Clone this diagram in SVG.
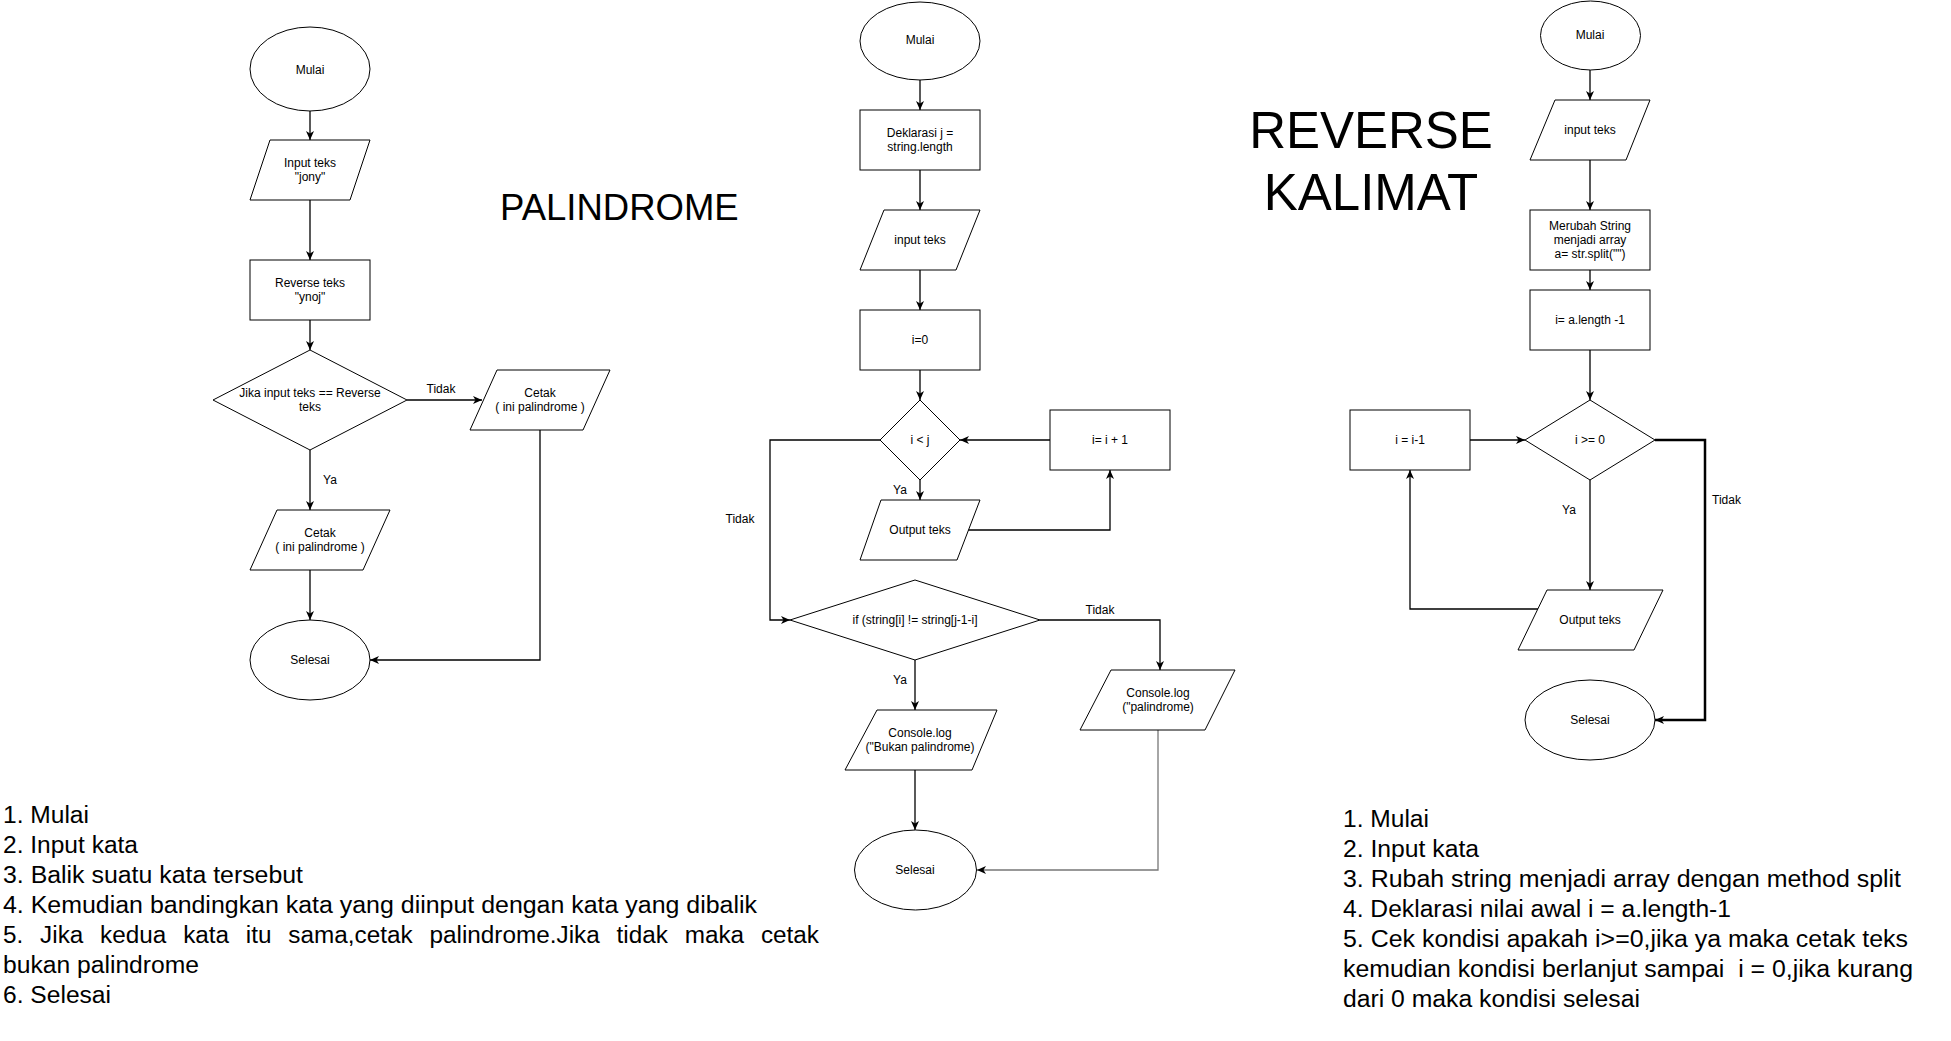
<svg xmlns="http://www.w3.org/2000/svg" width="1951" height="1041" viewBox="0 0 1951 1041">
<style>
.n{fill:#fff;stroke:#000;stroke-width:1}
.t{font-family:"Liberation Sans",Arial,sans-serif;font-size:12px;fill:#000;text-anchor:middle;dominant-baseline:central}
.l{font-family:"Liberation Sans",Arial,sans-serif;font-size:12px;fill:#000;dominant-baseline:central}
.c{fill:none;stroke:#000;stroke-width:1.3}
.title{font-family:"Liberation Sans",Arial,sans-serif;fill:#000}
.list{font-family:"Liberation Sans",Arial,sans-serif;fill:#000}
</style>
<defs>
<marker id="a" markerWidth="10" markerHeight="10" refX="9" refY="4" orient="auto" markerUnits="userSpaceOnUse">
<path d="M0,0 L9,4 L0,8 L2.5,4 Z" fill="#000"/>
</marker>
</defs>
<rect width="1951" height="1041" fill="#fff"/>

<!-- Titles -->
<text class="title" x="500" y="220" font-size="36.5">PALINDROME</text>
<text class="title" x="1371" y="148" font-size="51" text-anchor="middle">REVERSE</text>
<text class="title" x="1371" y="210" font-size="51" text-anchor="middle">KALIMAT</text>

<!-- Connectors -->
<g id="connectors">
<!-- left chart -->
<path class="c" d="M310,111 L310,140" marker-end="url(#a)"/>
<path class="c" d="M310,200 L310,260" marker-end="url(#a)"/>
<path class="c" d="M310,320 L310,350" marker-end="url(#a)"/>
<path class="c" d="M407,400 L482,400" marker-end="url(#a)"/>
<path class="c" d="M310,450 L310,510" marker-end="url(#a)"/>
<path class="c" d="M310,570 L310,620" marker-end="url(#a)"/>
<path class="c" d="M540,430 L540,660 L370,660" marker-end="url(#a)"/>
<text class="t" x="441" y="389">Tidak</text>
<text class="t" x="330" y="480">Ya</text>
<!-- middle chart -->
<path class="c" d="M920,80 L920,110" marker-end="url(#a)"/>
<path class="c" d="M920,170 L920,210" marker-end="url(#a)"/>
<path class="c" d="M920,270 L920,310" marker-end="url(#a)"/>
<path class="c" d="M920,370 L920,400" marker-end="url(#a)"/>
<path class="c" d="M1050,440 L960,440" marker-end="url(#a)"/>
<path class="c" d="M880,440 L770,440 L770,620 L790,620" marker-end="url(#a)"/>
<path class="c" d="M920,480 L920,500" marker-end="url(#a)"/>
<path class="c" d="M968,530 L1110,530 L1110,470" marker-end="url(#a)"/>
<path class="c" d="M1040,620 L1160,620 L1160,670" marker-end="url(#a)"/>
<path class="c" d="M915,660 L915,710" marker-end="url(#a)"/>
<path class="c" d="M915,770 L915,830" marker-end="url(#a)"/>
<path class="c" d="M1158,730 L1158,870 L977,870" style="stroke:#777" marker-end="url(#a)"/>
<text class="t" x="740" y="519">Tidak</text>
<text class="t" x="900" y="490">Ya</text>
<text class="t" x="1100" y="610">Tidak</text>
<text class="t" x="900" y="680">Ya</text>
<!-- right chart -->
<path class="c" d="M1590,70 L1590,100" marker-end="url(#a)"/>
<path class="c" d="M1590,160 L1590,210" marker-end="url(#a)"/>
<path class="c" d="M1590,270 L1590,290" marker-end="url(#a)"/>
<path class="c" d="M1590,350 L1590,400" marker-end="url(#a)"/>
<path class="c" d="M1470,440 L1525,440" marker-end="url(#a)"/>
<path class="c" d="M1590,480 L1590,590" marker-end="url(#a)"/>
<path class="c" d="M1538,609 L1410,609 L1410,470" marker-end="url(#a)"/>
<path class="c" d="M1655,440 L1705,440 L1705,720 L1655,720" style="stroke-width:2.5" marker-end="url(#a)"/>
<text class="t" x="1569" y="510">Ya</text>
<text class="l" x="1712" y="500">Tidak</text>
</g>

<!-- Left chart nodes -->
<g id="p-mulai"><ellipse class="n" cx="310" cy="69" rx="60" ry="42"/><text class="t" x="310" y="70">Mulai</text></g>
<g id="p-input"><polygon class="n" points="270,140 370,140 350,200 250,200"/><text class="t" x="310" y="163">Input teks</text><text class="t" x="310" y="177">"jony"</text></g>
<g id="p-reverse"><rect class="n" x="250" y="260" width="120" height="60"/><text class="t" x="310" y="283">Reverse teks</text><text class="t" x="310" y="297">"ynoj"</text></g>
<g id="p-cond"><polygon class="n" points="310,350 407,400 310,450 213,400"/><text class="t" x="310" y="393">Jika input teks == Reverse</text><text class="t" x="310" y="407">teks</text></g>
<g id="p-cetak-tidak"><polygon class="n" points="497,370 610,370 583,430 470,430"/><text class="t" x="540" y="393">Cetak</text><text class="t" x="540" y="407">( ini palindrome )</text></g>
<g id="p-cetak-ya"><polygon class="n" points="277,510 390,510 363,570 250,570"/><text class="t" x="320" y="533">Cetak</text><text class="t" x="320" y="547">( ini palindrome )</text></g>
<g id="p-selesai"><ellipse class="n" cx="310" cy="660" rx="60" ry="40"/><text class="t" x="310" y="660">Selesai</text></g>

<!-- Middle chart nodes -->
<g id="m-mulai"><ellipse class="n" cx="920" cy="41" rx="60" ry="39"/><text class="t" x="920" y="40">Mulai</text></g>
<g id="m-deklarasi"><rect class="n" x="860" y="110" width="120" height="60"/><text class="t" x="920" y="133">Deklarasi j =</text><text class="t" x="920" y="147">string.length</text></g>
<g id="m-input"><polygon class="n" points="884,210 980,210 956,270 860,270"/><text class="t" x="920" y="240">input teks</text></g>
<g id="m-i0"><rect class="n" x="860" y="310" width="120" height="60"/><text class="t" x="920" y="340">i=0</text></g>
<g id="m-cond"><polygon class="n" points="920,400 960,440 920,480 880,440"/><text class="t" x="920" y="440">i &lt; j</text></g>
<g id="m-inc"><rect class="n" x="1050" y="410" width="120" height="60"/><text class="t" x="1110" y="440">i= i + 1</text></g>
<g id="m-output"><polygon class="n" points="881,500 980,500 957,560 860,560"/><text class="t" x="920" y="530">Output teks</text></g>
<g id="m-if"><polygon class="n" points="915,580 1040,620 915,660 790,620"/><text class="t" x="915" y="620">if (string[i] != string[j-1-i]</text></g>
<g id="m-pal"><polygon class="n" points="1111,670 1235,670 1205,730 1080,730"/><text class="t" x="1158" y="693">Console.log</text><text class="t" x="1158" y="707">("palindrome)</text></g>
<g id="m-bukan"><polygon class="n" points="877,710 997,710 972,770 845,770"/><text class="t" x="920" y="733">Console.log</text><text class="t" x="920" y="747">("Bukan palindrome)</text></g>
<g id="m-selesai"><ellipse class="n" cx="915.5" cy="870" rx="61" ry="40"/><text class="t" x="915" y="870">Selesai</text></g>

<!-- Right chart nodes -->
<g id="r-mulai"><ellipse class="n" cx="1590.5" cy="35.5" rx="50" ry="34.5"/><text class="t" x="1590" y="35">Mulai</text></g>
<g id="r-input"><polygon class="n" points="1555,100 1650,100 1626,160 1530,160"/><text class="t" x="1590" y="130">input teks</text></g>
<g id="r-split"><rect class="n" x="1530" y="210" width="120" height="60"/><text class="t" x="1590" y="226">Merubah String</text><text class="t" x="1590" y="240">menjadi array</text><text class="t" x="1590" y="254">a= str.split("")</text></g>
<g id="r-len"><rect class="n" x="1530" y="290" width="120" height="60"/><text class="t" x="1590" y="320">i= a.length -1</text></g>
<g id="r-cond"><polygon class="n" points="1590,400 1655,440 1590,480 1525,440"/><text class="t" x="1590" y="440">i &gt;= 0</text></g>
<g id="r-dec"><rect class="n" x="1350" y="410" width="120" height="60"/><text class="t" x="1410" y="440">i = i-1</text></g>
<g id="r-output"><polygon class="n" points="1547,590 1663,590 1634,650 1518,650"/><text class="t" x="1590" y="620">Output teks</text></g>
<g id="r-selesai"><ellipse class="n" cx="1590" cy="720" rx="65" ry="40"/><text class="t" x="1590" y="720">Selesai</text></g>

<!-- Left description -->
<g class="list" font-size="23">
<text x="3" y="823" textLength="86" lengthAdjust="spacingAndGlyphs">1. Mulai</text>
<text x="3" y="853" textLength="135" lengthAdjust="spacingAndGlyphs">2. Input kata</text>
<text x="3" y="883" textLength="300" lengthAdjust="spacingAndGlyphs">3. Balik suatu kata tersebut</text>
<text x="3" y="913" textLength="754" lengthAdjust="spacingAndGlyphs">4. Kemudian bandingkan kata yang diinput dengan kata yang dibalik</text>
<text x="3" y="943" textLength="816" lengthAdjust="spacingAndGlyphs" word-spacing="9.5">5. Jika kedua kata itu sama,cetak palindrome.Jika tidak maka cetak</text>
<text x="3" y="973" textLength="196" lengthAdjust="spacingAndGlyphs">bukan palindrome</text>
<text x="3" y="1003" textLength="108" lengthAdjust="spacingAndGlyphs">6. Selesai</text>
</g>

<!-- Right description -->
<g class="list" font-size="23">
<text x="1343" y="827" textLength="86" lengthAdjust="spacingAndGlyphs">1. Mulai</text>
<text x="1343" y="857" textLength="136" lengthAdjust="spacingAndGlyphs">2. Input kata</text>
<text x="1343" y="887" textLength="558" lengthAdjust="spacingAndGlyphs">3. Rubah string menjadi array dengan method split</text>
<text x="1343" y="917" textLength="388" lengthAdjust="spacingAndGlyphs">4. Deklarasi nilai awal i = a.length-1</text>
<text x="1343" y="947" textLength="565" lengthAdjust="spacingAndGlyphs">5. Cek kondisi apakah i&gt;=0,jika ya maka cetak teks</text>
<text x="1343" y="977" textLength="570" lengthAdjust="spacingAndGlyphs" xml:space="preserve" style="white-space:pre">kemudian kondisi berlanjut sampai  i = 0,jika kurang</text>
<text x="1343" y="1007" textLength="297" lengthAdjust="spacingAndGlyphs">dari 0 maka kondisi selesai</text>
</g>
</svg>
